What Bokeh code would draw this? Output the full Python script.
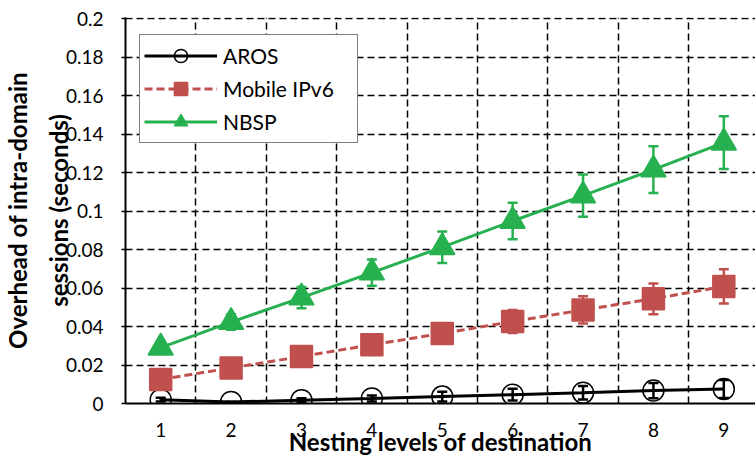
from bokeh.plotting import figure
from bokeh.models import (ColumnDataSource, Whisker, TeeHead, FixedTicker,
                          Legend, LegendItem)
from bokeh.embed import file_html
from bokeh.resources import INLINE

levels = [1, 2, 3, 4, 5, 6, 7, 8, 9]
aros = [0.0020, 0.0008, 0.0017, 0.0026, 0.0036, 0.0046, 0.0056, 0.0067, 0.0075]
aros_err = [0.0010, 0.0, 0.0010, 0.0015, 0.0025, 0.0030, 0.0035, 0.0040, 0.0047]
mipv6 = [0.0125, 0.0185, 0.0244, 0.0305, 0.0364, 0.0426, 0.0486, 0.0544, 0.0608]
mipv6_err = [0.0010, 0.0020, 0.0030, 0.0040, 0.0050, 0.0060, 0.0071, 0.0080, 0.0089]
nbsp = [0.0290, 0.0423, 0.0550, 0.0680, 0.0812, 0.0948, 0.1080, 0.1215, 0.1355]
nbsp_err = [0.0030, 0.0040, 0.0055, 0.0068, 0.0082, 0.0095, 0.0110, 0.0121, 0.0137]

y_ticks = [0, 0.02, 0.04, 0.06, 0.08, 0.1, 0.12, 0.14, 0.16, 0.18, 0.2]
y_tick_labels = ["0", "0.02", "0.04", "0.06", "0.08", "0.1", "0.12", "0.14",
                 "0.16", "0.18", "0.2"]
series_names = ["AROS", "Mobile IPv6", "NBSP"]
x_title = "Nesting levels of destination"
y_title = "Overhead of intra-domain\nsessions (seconds)"

BLACK = "#000000"
RED = "#C0504D"
GREEN = "#27B04F"
FONT = "Lato"

p = figure(width=755, height=461, output_backend="svg", toolbar_location=None,
           x_range=(0.5, 9.45), y_range=(0, 0.20052),
           min_border_left=123, min_border_right=0, min_border_top=17,
           min_border_bottom=58)
p.outline_line_color = None
p.background_fill_color = "white"

# grids
p.xgrid.ticker = FixedTicker(ticks=[c + 0.5 for c in levels[:-1]])
p.ygrid.ticker = FixedTicker(ticks=y_ticks)
for g in (p.xgrid, p.ygrid):
    g.grid_line_color = BLACK
    g.grid_line_width = 1.5
    g.grid_line_dash = "7 4"

# axes
p.xaxis.ticker = FixedTicker(ticks=levels)
p.yaxis.ticker = FixedTicker(ticks=y_ticks)
p.yaxis.major_label_overrides = {t: l for t, l in zip(y_ticks, y_tick_labels)}
for ax in (p.xaxis, p.yaxis):
    ax.axis_line_color = BLACK
    ax.axis_line_width = 2
    ax.major_label_text_font = FONT
    ax.major_label_text_font_size = "19px"
    ax.major_label_text_color = BLACK
    ax.minor_tick_line_color = None
    ax.axis_label_text_font = FONT
    ax.axis_label_text_font_style = "bold"
    ax.axis_label_text_font_size = "24px"
    ax.axis_label_text_color = BLACK
p.xaxis.major_tick_line_color = None
p.xaxis.major_label_standoff = 13
p.xaxis.axis_label = x_title
p.xaxis.axis_label_standoff = -13
p.yaxis.major_tick_in = 0
p.yaxis.major_tick_out = 4
p.yaxis.major_tick_line_width = 1.5
p.yaxis.major_tick_line_color = BLACK
p.yaxis.major_label_standoff = 18
p.yaxis.axis_label = y_title
p.yaxis.axis_label_standoff = -10
p.yaxis.axis_label_text_line_height = 1.4

def add_series(vals, errs, color, marker, dash, size, fill):
    src = ColumnDataSource(dict(x=levels, y=vals,
                                lo=[v - e for v, e in zip(vals, errs)],
                                hi=[v + e for v, e in zip(vals, errs)]))
    ln = p.line("x", "y", source=src, line_color=color, line_width=3,
                line_dash=dash)
    w = Whisker(source=src, base="x", lower="lo", upper="hi",
                line_color=color, line_width=2.5,
                upper_head=TeeHead(size=10, line_color=color, line_width=2.5),
                lower_head=TeeHead(size=10, line_color=color, line_width=2.5))
    p.add_layout(w)
    sc = p.scatter("x", "y", source=src, marker=marker, size=size,
                   line_color=color, fill_color=fill, line_width=1.5)
    return ln, sc

r1 = add_series(aros, aros_err, BLACK, "circle", "solid", 21, None)
r2 = add_series(mipv6, mipv6_err, RED, "square", "8 4", 22, RED)
r3 = add_series(nbsp, nbsp_err, GREEN, "triangle", "solid", 25, GREEN)

legend = Legend(items=[LegendItem(label=series_names[0], renderers=list(r1)),
                       LegendItem(label=series_names[1], renderers=list(r2)),
                       LegendItem(label=series_names[2], renderers=list(r3))],
                location=(14, 260), margin=0, padding=4, spacing=0,
                glyph_width=73, glyph_height=33, label_height=33,
                label_width=130, label_standoff=6,
                label_text_font=FONT, label_text_font_size="21px",
                label_text_color=BLACK, label_text_baseline="middle",
                border_line_color=BLACK, border_line_width=1.5,
                background_fill_color="white", background_fill_alpha=1.0)
p.add_layout(legend, "center")

open("out.html", "w").write(file_html(p, INLINE))
